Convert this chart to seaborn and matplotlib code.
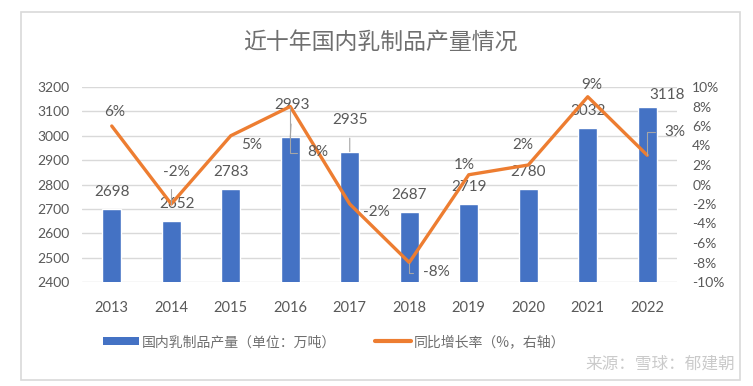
"""
plot.py
Dairy output in China over the last ten years (bars, left axis)
with year-on-year growth rate (line, right axis).
"""

import numpy as np
import matplotlib
matplotlib.use('Agg')
import matplotlib.pyplot as plt
from matplotlib.patches import Rectangle, Patch
from matplotlib.lines import Line2D
import seaborn as sns


# ── data ───────────────────────────────────────────────────────────────────────

YEARS   = ['2013', '2014', '2015', '2016', '2017',
           '2018', '2019', '2020', '2021', '2022']
OUTPUT  = [2698, 2652, 2783, 2993, 2935, 2687, 2719, 2780, 3032, 3118]   # 万吨
GROWTH  = [6, -2, 5, 8, -2, -8, 1, 2, 9, 3]                              # %

TITLE        = '近十年国内乳制品产量情况'
BAR_LABEL    = '国内乳制品产量（单位：万吨）'
LINE_LABEL   = '同比增长率（%，右轴）'
WATERMARK    = '来源：雪球：郁建朝'

# ── style ──────────────────────────────────────────────────────────────────────

BLUE    = '#4472C4'
ORANGE  = '#ED7D31'
GREY    = '#595959'
GRID    = '#D9D9D9'

# label offsets in pixels (dx, dy up) from bar top / line point
BAR_OFFSETS  = [(0, 17), (6, 17), (0, 17), (2, 32), (0, 32),
                (0, 17), (0, 17), (0, 17), (0, 17), (20, 12)]
LINE_OFFSETS = [(3, 14), (5, 32), (21, -9), (27, -46), (27, -8),
                (27, -10), (-4, 10), (-5, 20), (4, 12), (28, 23)]
LEADERS_BAR  = {3, 4}
LEADERS_LINE = {1, 3, 5, 9}

sns.set_theme(style='white')
plt.rcParams['font.family'] = ['Lato', 'Noto Sans CJK SC', 'DejaVu Sans']
PX = 0.72   # points per pixel at dpi 100

fig = plt.figure(figsize=(7.53, 3.86), dpi=100)
ax = fig.add_axes([82 / 753, 1 - 282 / 386, 595 / 753, 195 / 386])

# ── bars ───────────────────────────────────────────────────────────────────────

sns.barplot(x=YEARS, y=OUTPUT, color=BLUE, saturation=1, width=0.32, ax=ax)
ax.set_ylim(2400, 3200)
ax.set_yticks(np.arange(2400, 3201, 100))
ax.yaxis.grid(True, color=GRID, linewidth=1)
ax.set_axisbelow(True)
ax.set_xlabel('')
ax.set_ylabel('')
ax.tick_params(axis='y', colors=GREY, labelsize=10, length=0, pad=9)
ax.tick_params(axis='x', colors=GREY, labelsize=10.5, length=0, pad=14)
for s in ax.spines.values():
    s.set_visible(False)

for i, v in enumerate(OUTPUT):
    dx, dy = BAR_OFFSETS[i]
    arrow = None
    if i in LEADERS_BAR:
        arrow = dict(arrowstyle='-', color='#A6A6A6', lw=0.8, shrinkA=6, shrinkB=0)
    ax.annotate(str(v), xy=(i, v), xytext=(dx * PX, dy * PX),
                textcoords='offset points', ha='center', va='center',
                fontsize=11, color=GREY, arrowprops=arrow)

# ── growth line ────────────────────────────────────────────────────────────────

ax2 = ax.twinx()
sns.lineplot(x=np.arange(len(YEARS)), y=GROWTH, color=ORANGE,
             linewidth=2.4, ax=ax2)
ax2.set_ylim(-10, 10)
ax2.set_yticks(np.arange(-10, 11, 2))
ax2.set_yticklabels([f'{t}%' for t in range(-10, 11, 2)])
ax2.tick_params(axis='y', colors=GREY, labelsize=10, length=0, pad=11)
ax2.grid(False)
for s in ax2.spines.values():
    s.set_visible(False)

for i, g in enumerate(GROWTH):
    dx, dy = LINE_OFFSETS[i]
    arrow = None
    if i in LEADERS_LINE:
        arrow = dict(arrowstyle='-', color='#A6A6A6', lw=0.8,
                     shrinkA=5, shrinkB=0, connectionstyle='angle,angleA=0,angleB=90')
    ax2.annotate(f'{g}%', xy=(i, g), xytext=(dx * PX, dy * PX),
                 textcoords='offset points', ha='center', va='center',
                 fontsize=11, color=GREY, arrowprops=arrow)

ax.set_xlim(-0.5, len(YEARS) - 0.5)

# ── title, legend, frame ───────────────────────────────────────────────────────

fig.text(380 / 753, 1 - 43 / 386, TITLE, ha='center', va='center',
         fontsize=16.5, color='#6F6F6F', family=['Noto Sans CJK SC'],
         fontweight='light')

handles = [Patch(facecolor=BLUE, edgecolor='none', label=BAR_LABEL),
           Line2D([0], [0], color=ORANGE, lw=3, label=LINE_LABEL)]
fig.legend(handles=handles, loc='center', bbox_to_anchor=(334 / 753, 1 - 342 / 386),
           ncol=2, frameon=False, fontsize=10, labelcolor='#6F6F6F',
           handlelength=2.6, handleheight=0.55, handletextpad=0.2,
           columnspacing=2.8, prop={'family': ['Noto Sans CJK SC'], 'size': 10})

fig.text(735 / 753, 1 - 364 / 386, WATERMARK, ha='right', va='center',
         fontsize=12, color='#A0A0A0', alpha=0.55, family=['Noto Sans CJK SC'])

fig.patches.append(Rectangle((21 / 753, 1 - 380 / 386), 719 / 753, 368 / 386,
                             transform=fig.transFigure, fill=False,
                             edgecolor=GRID, linewidth=1.2))

fig.savefig('out.png', dpi=100)
plt.close(fig)
